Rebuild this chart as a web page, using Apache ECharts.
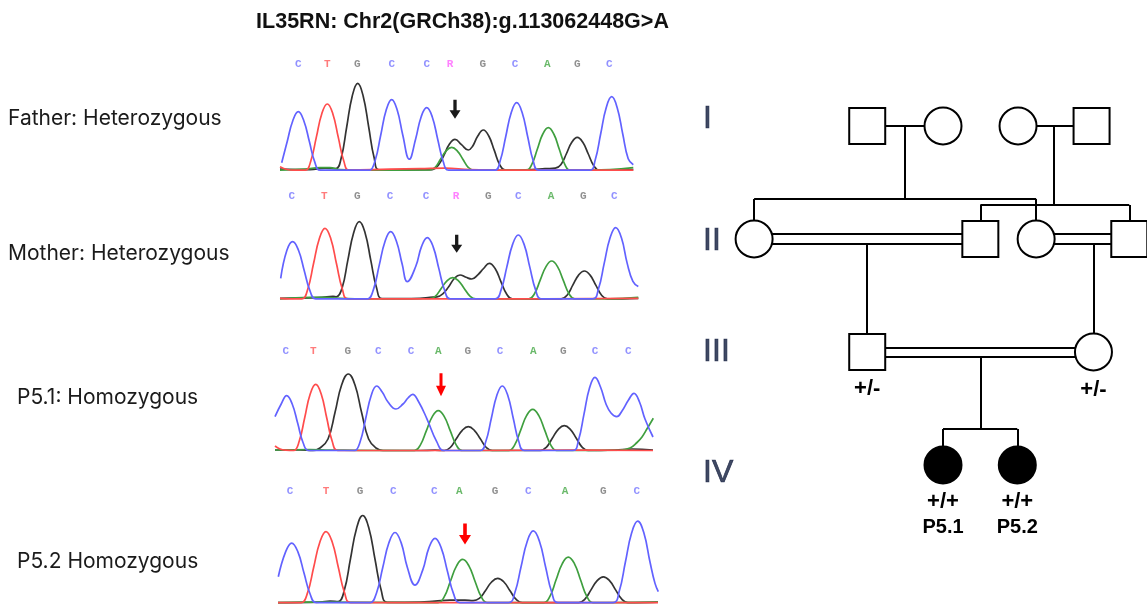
<!DOCTYPE html>
<html><head><meta charset="utf-8">
<script src="https://cdn.jsdelivr.net/npm/echarts@6/dist/echarts.min.js"></script>
<style>html,body{margin:0;padding:0;background:#fff}#c{width:1147px;height:606px}</style>
</head><body><div id="c"></div><script>
// ---------- Chromatogram data (x = scan position, y = signal) ----------
const panelNames = ['Father: Heterozygous', 'Mother: Heterozygous', 'P5.1: Homozygous', 'P5.2 Homozygous'];

const blue1 = [[11.7,8],[17.3,29.5],[22.8,50],[28.3,59],[33.8,50],[39.3,29.5],[44.8,8.6],[50.3,0.5],[95,0.5],
 [99.7,0.5],[105.2,10.4],[110.7,35.5],[116.2,60.6],[121.7,71],[127.2,60.6],[132.7,36],[139.3,11.5],[145.7,32],[151.2,54],[156.7,63],[162.2,54],[167.7,31.5],[173.2,9.2],[178.7,0.5],
 [224.7,0.5],[230.2,10],[235.7,34],[241.2,58],[246.7,68],[252.2,58],[257.7,34],[263.2,10],[268.7,0.5],
 [319.7,0.5],[325.2,10.8],[330.7,37],[336.2,63],[341.7,74],[347.2,63],[352.7,37],[358.2,12],[363.3,6]];
const red1 = [[10,4],[16,1.5],[24,0.5],[35.3,0.5],[40.8,9.7],[46.3,33.3],[51.8,57],[57.3,66.7],[62.8,57],[68.3,33.3],[73.8,9.7],[79.3,0.5],[120,1.5],[150,2],[175,2.5],[200,1],[240,0.5],[300,0.5],[363.3,0.5]];
const black1 = [[10,1.5],[40,1],[55,2.5],[65.7,2],[71.2,12.7],[76.7,43.7],[82.2,74.5],[87.7,87.3],[93.2,74.5],[98.7,43.7],[104.2,12.7],[109.7,0.8],
 [160,1],[163,1.2],[168.5,5.6],[174,15.6],[179.5,26.7],[185,31.3],[191.5,26],[198.3,20.7],[202.3,24],[207.8,34.7],[213.3,40.7],[218.8,34.7],[224.3,20.3],[229.8,5.9],[235.3,0.5],
 [262,1],[275,2],[285.3,2.5],[290.8,6],[296.3,16.7],[301.8,28.4],[307.3,33.3],[312.8,28.4],[318.3,16.7],[323.8,4.9],[329.3,0.5],[363.3,1]];
const green1 = [[10,0.5],[35,1.5],[50,3],[60,3],[70,1],[100,0.5],[159.7,0.8],[165.2,3.4],[170.7,11.7],[176.2,19.9],[181.7,23.3],[187.2,19.9],[192.7,11.7],[198.2,3.4],[203.7,0.5],
 [256.3,0.5],[261.8,6.3],[267.3,21.5],[272.8,36.7],[278.3,43],[283.8,36.7],[289.3,21.5],[294.8,6.3],[300.3,0.5],[340,1],[363.3,3]];

const blue2 = [[10.7,21],[16.9,49],[22.7,57.7],[28.5,49],[34.2,28.9],[40,8.4],[45.7,0.5],[92,0.5],
 [97.7,0.5],[103.5,9.9],[109.2,33.9],[115,57.8],[120.7,67.7],[126.5,57.8],[132.2,35],[137.3,17.7],[145.8,33],[151.5,52.7],[157.3,61.7],[163.1,52.7],[168.8,30.9],[174.6,9],[180.3,0.5],
 [225.3,0.5],[231.1,9.4],[236.8,32.2],[242.6,54.9],[248.3,64.3],[254.1,54.9],[259.8,32.2],[265.6,9.4],[271.3,0.5],
 [322.7,0.5],[328.5,10.5],[334.2,35.9],[340,61.2],[345.7,71.7],[351.5,61.2],[357.2,35.9],[362.9,18],[368.3,12.7]];
const red2 = [[10,1],[20,0.5],[32,0.5],[37.8,10.4],[43.5,35.5],[49.3,60.6],[55,71],[60.8,60.6],[66.5,35.5],[72.3,10.4],[78,0.5],[150,0.5],[250,0.5],[368.3,1]];
const black2 = [[10,1],[40,1.5],[52,2],[63,3],[66.3,2.5],[72.1,11.3],[77.8,38.9],[83.6,66.4],[89.3,77.7],[95.1,66.4],[100.8,38.9],[106.6,11.3],[112.3,0.7],
 [150,1],[160,2],[167,2.5],[172.8,5.5],[178.5,12.2],[184.3,20.8],[190,24.3],[196,22],[201.7,20.3],[207.8,24.5],[213.6,30.8],[219.3,36],[225.1,30.8],[230.8,18],[236.6,5.3],[242.3,0.5],
 [285,0.5],[291.3,0.5],[297.1,4.1],[302.8,14.2],[308.6,24.2],[314.3,28.3],[320.1,24.2],[325.8,14.2],[331.6,4.1],[337.3,0.5],[368.3,1]];
const green2 = [[10,0.5],[40,2],[55,2],[70,1],[100,0.5],[159.7,0.8],[165.5,3.2],[171.2,10.9],[177,18.5],[182.7,21.7],[188.5,18.5],[194.2,10.9],[200,3.2],[205.7,0.5],
 [258.7,0.5],[264.5,5.6],[270.2,19.2],[276,32.7],[281.7,38.3],[287.5,32.7],[293.2,19.2],[299,5.6],[304.7,0.5],[340,0.5],[368.3,2]];

const blue3 = [[5,34.3],[11.2,47],[16.7,55.3],[22.2,47],[27.7,27.7],[33.2,8],[38.7,0.5],[80,0.5],
 [84.7,0.5],[90.2,9.5],[95.7,32.5],[101.2,55.5],[106.7,65],[112.2,59],[118,49],[126,42],[133,47],[138,53],[142.7,56.7],[148.2,50],[156.7,32.7],[166.7,9.3],[174,0.5],
 [210.3,0.5],[215.8,9.5],[221.3,32.5],[226.8,55.5],[232.3,65],[237.8,55.5],[243.3,32.5],[248.8,9.5],[254.3,0.5],
 [303,0.5],[308.5,10.8],[314,36.9],[319.5,63],[325,73.7],[330.5,64],[336,47],[341,38],[346.7,34.3],[352,40],[358.5,51],[364,57.7],[369.5,49],[375,32],[383,14]];
const red3 = [[5,5],[10,2],[16,0.8],[23.7,0.5],[29.2,9.7],[34.7,33.3],[40.2,57],[45.7,66.7],[51.2,57],[56.7,33.3],[62.2,9.7],[67.7,0.5],[100,0.5],[200,0.5],[300,1],[383,0.5]];
const black3 = [[5,1],[30,1],[43,0.5],[50,3],[58,12],[65,38.5],[71.6,66],[78.3,77],[85,66],[91.6,38.5],[98.6,12],[106,3],[113,0.5],[150,0.5],[165,0.8],
 [174.3,0.5],[180.3,3.5],[186.3,12.2],[192.3,20.7],[198.3,24.3],[204.3,20.7],[210.3,12.2],[216.3,3.5],[222.3,0.5],
 [262,0.5],[270.3,0.5],[276.3,3.7],[282.3,12.7],[288.3,21.6],[294.3,25.3],[300.3,21.6],[306.3,12.7],[312.3,3.7],[318.3,0.5],[345,1],[362,2],[383,1]];
const green3 = [[5,1],[40,1.5],[60,1],[130,0.5],[144.3,0.5],[150.3,5.9],[156.3,20.2],[162.3,34.4],[168.3,40.3],[174.3,34.4],[180.3,20.2],[186.3,5.9],[192.3,0.5],
 [238.7,0.5],[244.7,6.1],[250.7,20.9],[256.7,35.6],[262.7,41.7],[268.7,35.6],[274.7,20.9],[280.7,6.1],[286.7,0.5],
 [350,0.8],[360,3],[367,8.5],[372,14],[377.5,23],[383.3,32.7]];

const blue4 = [[8.3,26.7],[15.6,52],[21.7,61],[27.9,52],[34,30.5],[40.2,8.9],[46.3,0.5],[95,0.5],
 [100.4,0.5],[106.6,10.5],[112.7,35.9],[118.9,61.2],[125,71.7],[131.2,61.2],[137.3,36.5],[145,18.3],[152.7,33.5],[158.9,56.1],[165,65.7],[171.2,56.1],[177.3,32.9],[183.5,9.6],[189.6,0.5],
 [238.7,0.5],[244.9,10.7],[251,36.7],[257.2,62.6],[263.3,73.3],[269.5,62.6],[275.6,36.7],[281.8,10.7],[287.9,0.5],
 [343.1,0.5],[349.3,12.2],[355.4,41.7],[361.6,71.1],[367.7,83.3],[373.9,71.1],[380,41.7],[385,20],[388.3,11.7]];
const red4 = [[8,0.5],[25,0.5],[31.4,0.5],[37.6,10.6],[43.7,36.4],[49.9,62.1],[56,72.7],[62.2,62.1],[68.3,36.4],[74.5,10.6],[80.6,0.5],[150,0.5],[250,0.5],[388,0.5]];
const black4 = [[8,0.5],[50,1],[60,2],[68.1,1.5],[74.3,13],[80.4,44.5],[86.6,76],[92.7,89],[98.9,76],[105,44.5],[111.2,13],[117.3,0.7],
 [150,1],[165,2],[180,3],[195,3],[203.1,2.5],[209.3,4.7],[215.4,12.5],[221.6,21.4],[227.7,25],[233.9,21.4],[240,12.5],[246.2,3.7],[252.3,0.5],
 [300,0.5],[308.7,0.5],[314.9,3.9],[321,13.4],[327.2,22.8],[333.3,26.7],[339.5,22.8],[345.6,13.4],[351.8,3.9],[357.9,0.5],[388,1]];
const green4 = [[8,0.5],[35,1],[50,1],[160,0.5],[168.1,0.5],[174.3,6.5],[180.4,22.2],[186.6,37.8],[192.7,44.3],[198.9,37.8],[205,22.2],[211.2,6.5],[217.3,0.5],
 [273.7,0.5],[279.9,6.8],[286,23.4],[292.2,39.9],[298.3,46.7],[304.5,39.9],[310.6,23.4],[316.8,6.8],[322.9,0.5],[388,1]];

// base calls
const calls1 = 'CTGCCRGCAGC'.split('');
const callX1 = [28.3,57.3,87.3,121.7,156.7,180,212.7,245,277.3,307.3,339.3];
const calls2 = 'CTGCCRGCAGC'.split('');
const callX2 = [21.7,54.3,87.3,120,156,186,218.3,248.3,281,313.3,344.3];
const calls3 = 'CTGCCAGCAGCC'.split('');
const callX3 = [15.7,43.3,77.7,108.3,141,168.3,197.7,230,263.3,293.3,325,358.3];
const calls4 = 'CTGCCAGCAGC'.split('');
const callX4 = [20,56,90,123.3,164.3,189.3,225,258.3,295,333.3,366.7];
const callLevel = [106.7, 103.3, 100, 114];

// variant arrows [x, signal]
const arrowPos = [[185,61.5],[186.7,55.5],[171,66.3],[195,70.3]];

// ---------- Pedigree data ----------
const pedX   = [3, 5.01, 7, 8.95, 0, 6, 7.48, 9.95, 3, 9, 5.01, 6.98];
const pedGen = [1, 1, 1, 1, 2, 2, 2, 2, 3, 3, 4, 4];
const pedSex = ['M','F','F','M','F','M','F','M','M','F','F','F'];
const pedAffected = [0,0,0,0,0,0,0,0,0,0,1,1];
const pedGenotype = ['','','','','','','','','+/-','+/-','+/+','+/+'];
const pedId = ['','','','','','','','','','','P5.1','P5.2'];
const genLabels = ['I','II','III','IV'];
const genValues = [1, 2, 3, 4];
// connections: [x1, g1, x2, g2]
const pedLines = [
  [3,1,5.01,1],[4,1,4,1.646],[0,1.646,7.48,1.646],[0,1.646,0,2],[7.48,1.646,7.48,2],
  [7,1,8.95,1],[7.96,1,7.96,1.699],[6,1.699,9.95,1.699],[6,1.699,6,2],[9.95,1.699,9.95,2],
  [0,1.956,6,1.956],[0,2.044,6,2.044],[3,2.044,3,3],
  [7.48,1.956,9.95,1.956],[7.48,2.044,9.95,2.044],[9,2.044,9,3],
  [3,2.96,9,2.96],[3,3.04,9,3.04],[6,3.04,6,3.681],
  [5.01,3.681,6.98,3.681],[5.01,3.681,5.01,4],[6.98,3.681,6.98,4]
];

// ---------- build ----------
const traces = [
  {A:green1, C:blue1, G:black1, T:red1},
  {A:green2, C:blue2, G:black2, T:red2},
  {A:green3, C:blue3, G:black3, T:red3},
  {A:green4, C:blue4, G:black4, T:red4}
];
const calls = [calls1, calls2, calls3, calls4];
const callX = [callX1, callX2, callX3, callX4];
const traceColor = {A:'#3f9f3f', C:'#6262ff', G:'#333333', T:'#ff4c4c'};
const letterColor = {A:'#45a845', C:'#7676ff', G:'#747474', T:'#ff5a5a', R:'#ff62ff'};
const baselines = [170.7, 299.3, 451, 605];
const arrowColor = ['#1a1a1a','#1a1a1a','#ff0000','#ff0000'];
const arrowSize = [[11,19],[11,18],[10,23],[12,21]];
const labelY = [119, 253.5, 398, 562];
const labelX = [8, 8, 17, 17];

const grid = [], xAxis = [], yAxis = [], series = [], graphic = [];
for (let p = 0; p < 4; p++) {
  grid.push({left: 270, width: 400, top: baselines[p] - 120, height: 123});
  xAxis.push({type:'value', gridIndex:p, min:0, max:400, show:false});
  yAxis.push({type:'value', gridIndex:p, min:-3, max:120, show:false});
  ['G','A','T','C'].forEach(b => {
    series.push({type:'line', xAxisIndex:p, yAxisIndex:p, data:traces[p][b], smooth:0.45,
      showSymbol:false, silent:true, lineStyle:{width:1.7, color:traceColor[b]}, z:2});
  });
  series.push({type:'scatter', xAxisIndex:p, yAxisIndex:p, silent:true, symbolSize:1,
    itemStyle:{color:'rgba(0,0,0,0)'},
    data: calls[p].map((c,i) => ({value:[callX[p][i], callLevel[p]], name:c,
      label:{color:letterColor[c]}})),
    label:{show:true, position:'inside', formatter:d=>d.name, fontFamily:'Liberation Mono', fontWeight:'bold', fontSize:11}, z:3});
  series.push({type:'scatter', xAxisIndex:p, yAxisIndex:p, silent:true,
    symbol:'path://M3.5,0L6.5,0L6.5,11L10,11L5,20L0,11L3.5,11Z', symbolKeepAspect:false,
    symbolSize:arrowSize[p], itemStyle:{color:arrowColor[p], opacity:1}, data:[arrowPos[p]], z:4});
  graphic.push({type:'text', x:labelX[p], y:labelY[p], style:{text:panelNames[p], fontSize:21,
    fontFamily:'Inter', fill:'#1b1b1b', align:'left', verticalAlign:'middle', textAlign:'left', textVerticalAlign:'middle'}});
}
graphic.push({type:'text', x:462.5, y:22, style:{text:'IL35RN: Chr2(GRCh38):g.113062448G>A', fontSize:21.5,
  fontWeight:'bold', fontFamily:'Liberation Sans', fill:'#111', align:'center', verticalAlign:'middle', textAlign:'center', textVerticalAlign:'middle'}});

// pedigree grid
grid.push({left:690, width:457, top:46.9, height:519.8});
xAxis.push({type:'value', gridIndex:4, min:-1.7, max:10.42, show:false});
yAxis.push({type:'value', gridIndex:4, min:0.3, max:4.9, inverse:true, show:false});
series.push({type:'lines', coordinateSystem:'cartesian2d', xAxisIndex:4, yAxisIndex:4, silent:true,
  data: pedLines.map(l => ({coords:[[l[0],l[1]],[l[2],l[3]]]})),
  lineStyle:{color:'#000', width:2, opacity:1}, z:5});
series.push({type:'scatter', xAxisIndex:4, yAxisIndex:4, silent:true, z:6,
  data: pedX.map((x,i) => ({
    value:[x, pedGen[i]],
    symbol: pedSex[i]==='M' ? 'rect' : 'circle',
    symbolSize: pedSex[i]==='M' ? 36 : 37,
    itemStyle:{color: pedAffected[i] ? '#000' : '#fff', borderColor:'#000', borderWidth:2, opacity:1},
    label:{show: pedGenotype[i] !== '', position:'bottom', distance: pedId[i] ? 4 : 7,
      formatter: pedId[i] ? '{g|' + pedGenotype[i] + '}\n{i|' + pedId[i] + '}' : '{g|' + pedGenotype[i] + '}',
      align:'center',
      rich:{
        g:{fontFamily:'Liberation Sans', fontWeight:'bold', fontSize:22, lineHeight: pedId[i] ? 26 : 22, color:'#000', align:'center'},
        i:{fontFamily:'Liberation Sans', fontWeight:'bold', fontSize:20, lineHeight:26, color:'#000', align:'center'}
      }}
  }))
});
const genDy = [-7, 2, 0, 8];
series.push({type:'scatter', xAxisIndex:4, yAxisIndex:4, silent:true, symbolSize:1, z:6,
  itemStyle:{color:'rgba(0,0,0,0)'},
  data: genLabels.map((g,i) => ({value:[-1.352, genValues[i]], name:g, label:{offset:[0, genDy[i]]}})),
  label:{show:true, position:'inside', align:'left', verticalAlign:'middle', formatter:d=>d.name,
    fontFamily:'Liberation Sans', fontSize:32, color:'#101c3c', textBorderColor:'#101c3c', textBorderWidth:0.7}});

const chart = echarts.init(document.getElementById('c'), null, {renderer:'canvas'});
chart.setOption({animation:false, backgroundColor:'#fff', grid, xAxis, yAxis, series, graphic});
</script></body></html>
